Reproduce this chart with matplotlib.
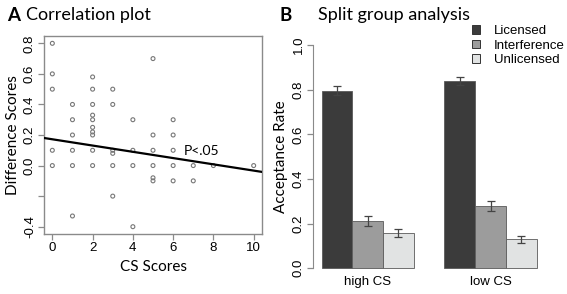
import numpy as np
import matplotlib
matplotlib.use("Agg")
import matplotlib.pyplot as plt
from matplotlib.patches import Patch

# Panel A: scatter data (CS score, difference score)
cs_scores = [0, 0, 0, 0, 0,
             1, 1, 1, 1, 1, 1,
             2, 2, 2, 2, 2, 2, 2, 2, 2, 2,
             3, 3, 3, 3, 3, 3,
             4, 4, 4, 4,
             5, 5, 5, 5, 5, 5,
             6, 6, 6, 6, 6,
             7, 7,
             8,
             10]
diff_scores = [0.8, 0.6, 0.5, 0.1, 0.0,
               0.4, 0.3, 0.2, 0.1, 0.0, -0.33,
               0.58, 0.5, 0.4, 0.33, 0.3, 0.25, 0.22, 0.2, 0.1, 0.0,
               0.5, 0.4, 0.1, 0.08, 0.0, -0.2,
               0.3, 0.1, 0.0, -0.4,
               0.7, 0.2, 0.1, 0.0, -0.08, -0.1,
               0.3, 0.2, 0.1, 0.0, -0.1,
               0.0, -0.1,
               0.0,
               0.0]
fit_intercept = 0.172
fit_slope = -0.0205

# Panel B: acceptance rates
groups = ["high CS", "low CS"]
conditions = ["Licensed", "Interference", "Unlicensed"]
rates = {"Licensed": [0.795, 0.838],
         "Interference": [0.21, 0.279],
         "Unlicensed": [0.158, 0.13]}
errors = {"Licensed": [0.02, 0.017],
          "Interference": [0.022, 0.022],
          "Unlicensed": [0.019, 0.016]}
colors = {"Licensed": "#3b3b3b", "Interference": "#9c9c9c", "Unlicensed": "#e1e3e3"}

TICK_FONT = ["Liberation Sans", "DejaVu Sans"]
LABEL_FONT = ["Lato", "DejaVu Sans"]
AXIS_GRAY = "#8a8a8a"

fig = plt.figure(figsize=(5.67, 2.94), dpi=100)

# ---- A: correlation plot
axA = fig.add_axes([0.0781, 0.204, 0.3835, 0.6736])
axA.scatter(cs_scores, diff_scores, s=8, facecolors="none", edgecolors="#777777", linewidths=0.8, zorder=3)
axA.axline((0, fit_intercept), slope=fit_slope, color="black", lw=1.6, zorder=4)
axA.text(6.55, 0.095, "P<.05", family=LABEL_FONT, fontsize=10, va="center", ha="left")
axA.set_xlim(-0.4, 10.4)
axA.set_ylim(-0.448, 0.848)
axA.set_xticks([0, 2, 4, 6, 8, 10])
axA.set_yticks([-0.4, -0.2, 0.0, 0.2, 0.4, 0.6, 0.8])
axA.set_yticklabels(["-0.4", "", "0.0", "0.2", "0.4", "0.6", "0.8"], rotation=90, va="center")
for sp in axA.spines.values():
    sp.set_color(AXIS_GRAY)
    sp.set_linewidth(1.0)
axA.tick_params(color=AXIS_GRAY, length=4, width=0.9, labelsize=9.5, pad=2)
for lbl in axA.get_xticklabels() + axA.get_yticklabels():
    lbl.set_family(TICK_FONT)
axA.set_xlabel("CS Scores", family=LABEL_FONT, fontsize=11, labelpad=4)
axA.set_ylabel("Difference Scores", family=LABEL_FONT, fontsize=11, labelpad=3)
fig.text(0.012, 0.948, "A", family=LABEL_FONT, fontsize=13.5, fontweight="bold", va="center")
fig.text(0.046, 0.948, "Correlation plot", family=LABEL_FONT, fontsize=13, va="center")

# ---- B: split group analysis
axB = fig.add_axes([0.552, 0.0571, 0.4097, 0.82])
for i, cond in enumerate(conditions):
    xpos = [1.5 + i + 4 * g for g in range(len(groups))]
    axB.bar(xpos, rates[cond], width=1.0, color=colors[cond], edgecolor="#5a5a5a", linewidth=0.6,
            yerr=errors[cond], capsize=3,
            error_kw=dict(ecolor="#444444", elinewidth=0.9, capthick=0.9))
axB.set_xlim(0.72, 8.28)
axB.set_ylim(-0.04, 1.04)
axB.set_xticks([2.5 + 4 * g for g in range(len(groups))])
axB.set_xticklabels(groups)
axB.tick_params(axis="x", length=0, labelsize=9.5, pad=-1)
axB.set_yticks([0.0, 0.2, 0.4, 0.6, 0.8, 1.0])
axB.set_yticklabels(["0.0", "0.2", "0.4", "0.6", "0.8", "1.0"], rotation=90, va="center")
axB.tick_params(axis="y", color=AXIS_GRAY, length=4, width=0.9, labelsize=9.5, pad=2)
for lbl in axB.get_xticklabels() + axB.get_yticklabels():
    lbl.set_family(TICK_FONT)
for side in ["top", "right", "bottom"]:
    axB.spines[side].set_visible(False)
axB.spines["left"].set_bounds(0, 1)
axB.spines["left"].set_color(AXIS_GRAY)
axB.set_ylabel("Acceptance Rate", family=LABEL_FONT, fontsize=11, labelpad=3)

handles = [Patch(facecolor=colors[c], edgecolor="#333333", linewidth=0.7) for c in conditions]
leg = fig.legend(handles, conditions, loc="upper left", bbox_to_anchor=(0.833, 0.915),
                 frameon=False, prop=dict(family=TICK_FONT, size=9.5),
                 handlelength=0.6, handleheight=0.6, handletextpad=1.05, labelspacing=0.2,
                 borderaxespad=0, borderpad=0)
fig.text(0.493, 0.948, "B", family=LABEL_FONT, fontsize=13.5, fontweight="bold", va="center")
fig.text(0.56, 0.948, "Split group analysis", family=LABEL_FONT, fontsize=13, va="center")

fig.savefig("out.png", dpi=100)
